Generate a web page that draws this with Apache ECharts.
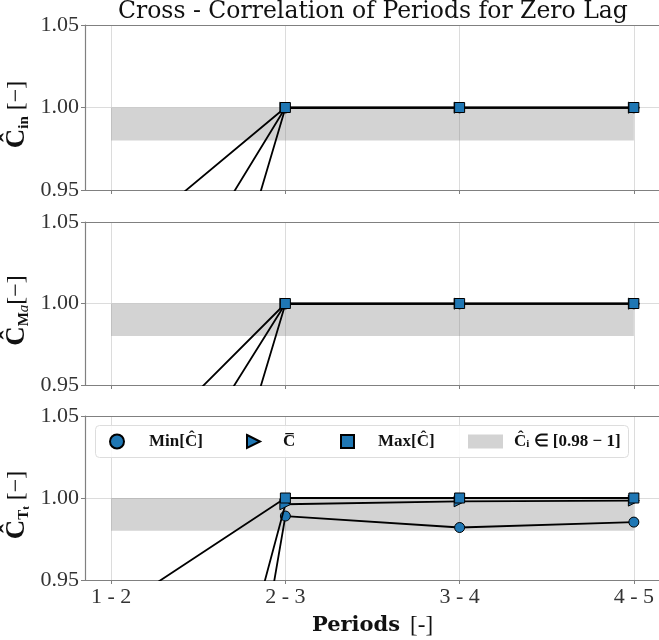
<!DOCTYPE html>
<html><head><meta charset="utf-8">
<script src="https://cdn.jsdelivr.net/npm/echarts@6/dist/echarts.min.js"></script>
<style>html,body{margin:0;padding:0;background:#fff}#c{width:659px;height:640px}</style>
</head><body><div id="c"></div>
<script>
const categories = ['1 - 2', '2 - 3', '3 - 4', '4 - 5'];
const yTicks = [0.95, 1.00, 1.05];
const bandLow = 0.98, bandHigh = 1.0;
// panel 1: C_in
const minIn  = [0.643, 0.9997, 0.9998, 0.9998];
const meanIn = [0.827, 0.9999, 0.9999, 0.9999];
const maxIn  = [0.912, 1.0, 1.0, 1.0];
// panel 2: C_Ma
const minMa  = [0.643, 0.9997, 0.9998, 0.9998];
const meanMa = [0.829, 0.9999, 0.9999, 0.9999];
const maxMa  = [0.893, 1.0, 1.0, 1.0];
// panel 3: C_Tt
const minTt  = [0.37, 0.989, 0.982, 0.9853];
const meanTt = [0.60, 0.9962, 0.998, 0.9984];
const maxTt  = [0.93, 1.0, 1.0, 1.0];

const panels = [[minIn, meanIn, maxIn], [minMa, meanMa, maxMa], [minTt, meanTt, maxTt]];
const yNames = [
  '{c|Ĉ}{s|in}{n| [−]}',
  '{c|Ĉ}{s|M}{si|a}{n|[−]}',
  '{c|Ĉ}{s|T}{ss|t}{n| [−]}'
];
const FONT = 'Liberation Serif';
const WIDE = 'DejaVu Serif';
const GRAY = '#808080';
const tops = [25, 222, 416];
const heights = [165, 163, 164];

const grid = [], xAxis = [], yAxis = [], series = [];
const seriesNames = ['Min', 'Mean', 'Max'];
const symbols = ['circle', 'triangle', 'rect'];
const rots = [0, -90, 0];
for (let p = 0; p < 3; p++) {
  grid.push({left: 85, width: 575, top: tops[p], height: heights[p], show: false,
    outerBoundsMode: 'none', containLabel: false});
  xAxis.push({type: 'value', gridIndex: p, min: -0.15, max: 3.15,
    axisLine: {show: true, onZero: false, lineStyle: {color: GRAY, width: 1.2}},
    axisTick: {show: true, customValues: [0, 1, 2, 3], length: 4, lineStyle: {color: GRAY, width: 1}},
    axisLabel: {show: p === 2, customValues: [0, 1, 2, 3], formatter: v => categories[Math.round(v)] || '',
      fontFamily: FONT, fontSize: 22, color: '#333', margin: 6},
    splitLine: {show: true, lineStyle: {color: '#dcdcdc', width: 1}},
    name: p === 2 ? '{b|Periods}   {n|[-]}' : '', nameLocation: 'middle', nameGap: 34,
    nameMoveOverlap: false,
    nameTextStyle: {rich: {b: {fontFamily: WIDE, fontSize: 21, fontWeight: 'bold', color: '#111'},
      n: {fontFamily: FONT, fontSize: 23, color: '#111'}}}
  });
  yAxis.push({type: 'value', gridIndex: p, min: yTicks[0], max: yTicks[2], interval: 0.05,
    axisLine: {show: true, onZero: false, lineStyle: {color: GRAY, width: 1.2}},
    axisTick: {show: true, length: 4, lineStyle: {color: GRAY}},
    axisLabel: {formatter: v => v.toFixed(2), fontFamily: FONT, fontSize: 22, color: '#333', margin: 6},
    splitLine: {show: true, lineStyle: {color: '#dcdcdc', width: 1}},
    name: yNames[p], nameLocation: 'middle', nameRotate: 90, nameGap: 53,
    nameMoveOverlap: false,
    nameTextStyle: {padding: [0, 14, 0, 0], rich: {
      c: {fontFamily: FONT, fontSize: 27, fontWeight: 'bold', color: '#111', lineHeight: 30},
      s: {fontFamily: FONT, fontSize: 15, fontWeight: 'bold', color: '#111', verticalAlign: 'bottom', lineHeight: 12},
      si: {fontFamily: FONT, fontSize: 15, fontStyle: 'italic', color: '#111', verticalAlign: 'bottom', lineHeight: 12},
      ss: {fontFamily: FONT, fontSize: 11, fontWeight: 'bold', color: '#111', verticalAlign: 'bottom', lineHeight: 6},
      n: {fontFamily: FONT, fontSize: 24, color: '#111', lineHeight: 30}
    }}
  });
  series.push({name: 'Band', type: 'bar', xAxisIndex: p, yAxisIndex: p, data: [],
    itemStyle: {color: '#d3d3d3'},
    markArea: {silent: true, itemStyle: {color: 'rgba(128,128,128,0.35)'},
      data: [[{coord: [0, bandLow]}, {coord: [categories.length - 1, bandHigh]}]]}
  });
  for (let s = 0; s < 3; s++) {
    series.push({name: seriesNames[s], type: 'line', xAxisIndex: p, yAxisIndex: p,
      data: panels[p][s].map((v, i) => [i, v]),
      symbol: symbols[s], symbolRotate: rots[s], symbolSize: s === 1 ? 11 : 10,
      itemStyle: {color: '#1f77b4', borderColor: '#000', borderWidth: 1},
      lineStyle: {color: '#000', width: 1.8},
      emphasis: {disabled: true}, z: 3 + s
    });
  }
}
// top frame lines
for (let p = 0; p < 3; p++) {
  xAxis.push({type: 'value', gridIndex: p, position: 'top', min: -0.15, max: 3.15,
    axisLine: {show: true, onZero: false, lineStyle: {color: GRAY, width: 1.2}},
    axisTick: {show: false}, axisLabel: {show: false}, splitLine: {show: false}});
}

const legendLabels = {
  'Min': '{t|Min[Ĉ]}',
  'Mean': '{t|C\u0305}',
  'Max': '{t|Max[Ĉ]}',
  'Band': '{t|Ĉ}{ts|i}{u| ∈ [0.98 − 1]}'
};
const legendCommon = {
  top: 433, orient: 'horizontal', padding: 0,
  lineStyle: {opacity: 0},
  formatter: n => legendLabels[n],
  selectedMode: false, z: 10
};
const legRich = (pad) => ({rich: {
  t: {fontFamily: FONT, fontSize: 17, fontWeight: 'bold', color: '#111', padding: [0, 0, 0, pad]},
  u: {fontFamily: FONT, fontSize: 17, fontWeight: 'bold', color: '#111'},
  ts: {fontFamily: FONT, fontSize: 11, fontWeight: 'bold', color: '#111', verticalAlign: 'bottom', lineHeight: 10}
}});
const legend = [
  Object.assign({}, legendCommon, {left: 109, itemWidth: 14, itemHeight: 14,
    data: [{name: 'Min', icon: 'circle'}], textStyle: legRich(20)}),
  Object.assign({}, legendCommon, {left: 246, itemWidth: 13, itemHeight: 13,
    data: [{name: 'Mean', icon: 'path://M0,0L10,5L0,10Z'}], textStyle: legRich(18)}),
  Object.assign({}, legendCommon, {left: 340, itemWidth: 13, itemHeight: 13,
    data: [{name: 'Max', icon: 'path://M0,0h10v10h-10z'}], textStyle: legRich(19)}),
  Object.assign({}, legendCommon, {left: 468, itemWidth: 35, itemHeight: 14,
    data: [{name: 'Band', icon: 'rect', itemStyle: {color: '#d3d3d3', borderWidth: 0}}], textStyle: legRich(6)})
];

const option = {
  animation: false,
  title: {text: 'Cross - Correlation of Periods for Zero Lag', left: 118, top: 0, padding: 0,
    textStyle: {fontFamily: WIDE, fontSize: 23.5, fontWeight: 'normal', color: '#111'}},
  graphic: [{type: 'rect', left: 95, top: 425, z: 5,
    shape: {width: 533, height: 32, r: 4},
    style: {fill: 'rgba(255,255,255,0.85)', stroke: '#dddddd', lineWidth: 1}}],
  legend,
  grid, xAxis, yAxis, series
};
const chart = echarts.init(document.getElementById('c'));
chart.setOption(option);
</script></body></html>
